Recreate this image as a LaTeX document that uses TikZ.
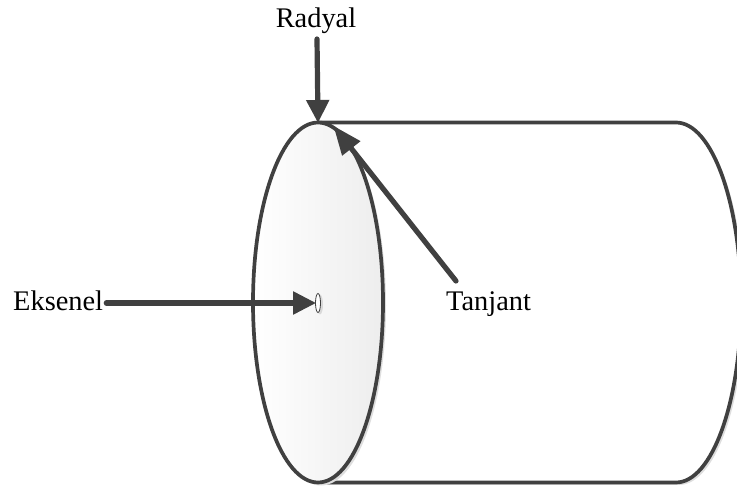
\documentclass[tikz,border=0pt]{standalone}
\usepackage{fontspec}
\setmainfont{Liberation Serif}
\usetikzlibrary{arrows.meta,shapes.geometric}
\definecolor{ink}{HTML}{404040}
\tikzset{
  x=1pt,y=-1pt,
  outline/.style={draw=ink,line width=3.7pt},
  force/.style={draw=ink,line width=5.2pt,line cap=round,-{Triangle[length=23pt,width=22pt]},shorten >=-1pt},
  longforce/.style={draw=ink,line width=5.2pt,line cap=round,-{Triangle[length=29pt,width=22pt]},shorten >=-1pt},
  lbl/.style={font=\fontsize{28.4pt}{32pt}\selectfont,inner sep=0pt,text=black}
}
\begin{document}
\begin{tikzpicture}
\useasboundingbox (0,0) rectangle (737,486);
\begin{scope}
\clip (0,0) rectangle (737,486);
% cylinder body
\fill[black!13] (679,125) arc[start angle=90,end angle=-90,x radius=65pt,y radius=180pt] -- (321,485) -- (321,125) -- cycle;
\fill[white] (676,122.5) arc[start angle=90,end angle=-90,x radius=65pt,y radius=180pt] -- (318,482.5) -- (318,122.5) -- cycle;
\draw[outline] (318,122.5) -- (676,122.5) arc[start angle=90,end angle=-90,x radius=65pt,y radius=180pt] -- (318,482.5);
% disc
\fill[black!13] (321,305.5) ellipse[x radius=65pt,y radius=180pt];
\shade[left color=white,right color=black!7] (318,302.5) ellipse[x radius=65pt,y radius=180pt];
\draw[outline] (318,302.5) ellipse[x radius=65pt,y radius=180pt];
\end{scope}
\coordinate (rimtop) at (318,122);
\coordinate (rimtan) at (334,126.5);
\coordinate (radstart) at (317,39);
\coordinate (tanstart) at (456,281);
\fill[black!15] (320,304.5) ellipse[x radius=3pt,y radius=10pt];
\node[draw=ink,fill=white,line width=0.8pt,ellipse,inner sep=0pt,minimum width=5pt,minimum height=19pt] (hole) at (318,303) {};
\node[lbl,anchor=base] (radyal) at (316,28) {Radyal};
\node[lbl,anchor=base west] (eksenel) at (13,311) {Eksenel};
\node[lbl,anchor=base west] (tanjant) at (446,311) {Tanjant};
\draw[force] ([xshift=3pt]eksenel.east |- hole) -- (hole.west);
\draw[force] (radstart) -- (rimtop);
\draw[longforce] (tanstart) -- (rimtan);
\end{tikzpicture}
\end{document}
